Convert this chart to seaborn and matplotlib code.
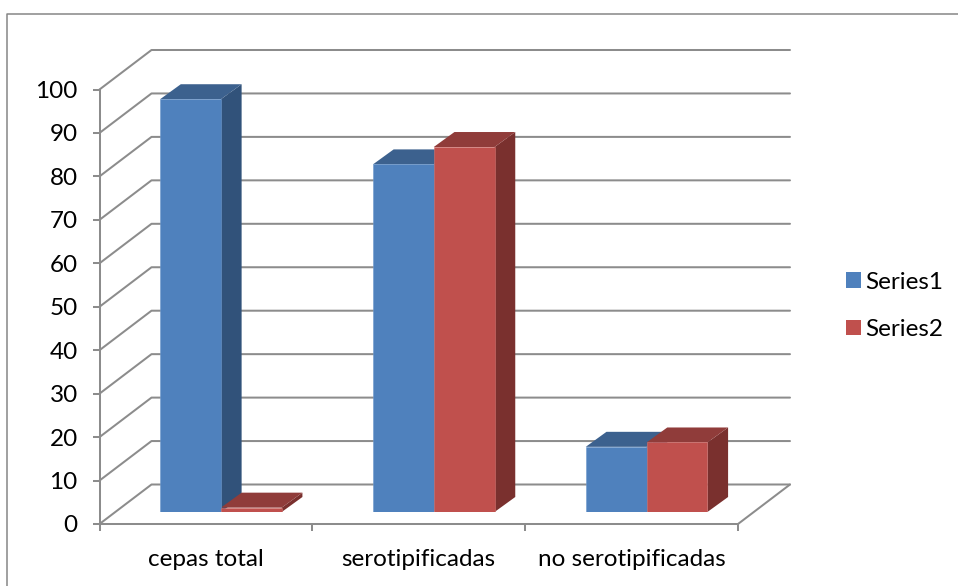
import matplotlib
matplotlib.use("Agg")
import matplotlib.pyplot as plt
import pandas as pd
import seaborn as sns
from matplotlib.lines import Line2D
from matplotlib.patches import Patch, Polygon

# Chart values
categories = ["cepas total", "serotipificadas", "no serotipificadas"]
series1 = [95, 80, 15]
series2 = [1, 84, 16]
series_names = ["Series1", "Series2"]
value_ticks = list(range(0, 101, 10))

# Office palette: front, top and side faces of each series
front_colors = ["#4F81BD", "#C0504D"]
top_colors = ["#3C618E", "#903C3A"]
side_colors = ["#31527A", "#7A302E"]
edge_colors = ["#6E99CC", "#D07370"]
grid_color = "#8C8C8C"
text_color = "#000000"
label_size = 17.5

W, H = 958, 586
sns.set_theme(style="white")
plt.rcParams["font.family"] = ["Lato", "DejaVu Sans"]

fig = plt.figure(figsize=(W / 100, H / 100), dpi=100, facecolor="white")


def axes_rect(left, right, bottom, top):
    return [left / W, 1 - bottom / H, (right - left) / W, (bottom - top) / H]


# Front plane of the box carries the axes; the bars stand slightly behind it
X0, X1, Y0, Y100 = 99.5, 738, 524, 89.5
ax_box = fig.add_axes(axes_rect(X0, X1, Y0, Y100))
ax_bars = fig.add_axes(axes_rect(X0 + 15.0, X1 + 15.0, Y0 - 12, Y100 - 12))

px_x = (X1 - X0) / len(categories)
px_y = (Y0 - Y100) / 100


def to_x(px):
    return px / px_x


def to_y(px):
    return px / px_y


# Box: walls, floor and gridlines
for ax in (ax_box, ax_bars):
    ax.set_xlim(-0.5, 2.5)
    ax.set_ylim(0, 100)

wall_dx, wall_dy = to_x(52), to_y(39.5)
line_width = 1.45
line_style = dict(color=grid_color, lw=line_width, clip_on=False, solid_capstyle="round", zorder=1)
for v in value_ticks:
    ax_box.plot([-0.5, -0.5 + wall_dx, 2.5 + wall_dx], [v, v + wall_dy, v + wall_dy], **line_style)
ax_box.plot([2.5, 2.5 + wall_dx], [0, wall_dy], **line_style)

ax_box.patch.set_visible(False)
for side in ("top", "right"):
    ax_box.spines[side].set_visible(False)
for side in ("left", "bottom"):
    ax_box.spines[side].set_color(grid_color)
    ax_box.spines[side].set_linewidth(line_width)
ax_box.set_yticks(value_ticks)
ax_box.set_yticklabels([str(v) for v in value_ticks])
ax_box.set_xticks([-0.5, 0.5, 1.5, 2.5])
ax_box.set_xticklabels([])
ax_box.set_xticks(range(len(categories)), labels=categories, minor=True)
ax_box.tick_params(axis="both", which="major", length=5, width=line_width, color=grid_color,
                   left=True, bottom=True)
ax_box.tick_params(axis="y", labelsize=label_size, labelcolor=text_color, pad=10.7)
ax_box.tick_params(axis="x", which="minor", length=0, labelsize=label_size,
                   labelcolor=text_color, pad=18)

# Front faces of the bars
table = pd.DataFrame({
    "category": categories * 2,
    "value": series1 + series2,
    "series": [series_names[0]] * 3 + [series_names[1]] * 3,
})
sns.barplot(data=table, x="category", y="value", hue="series", order=categories,
            hue_order=series_names, palette=front_colors, width=0.5714, saturation=1,
            dodge=True, legend=False, ax=ax_bars, zorder=5,
            edgecolor="none", linewidth=0)
ax_bars.set_xlim(-0.5, 2.5)
ax_bars.set_ylim(0, 100)
ax_bars.axis("off")

# Extruded top and side faces, derived from each drawn bar
bar_dx, bar_dy = to_x(20.7), to_y(15)
for idx, container in enumerate(ax_bars.containers):
    for bar in container:
        x, w, h = bar.get_x(), bar.get_width(), bar.get_height()
        bar.set_edgecolor(edge_colors[idx])
        bar.set_linewidth(0.4)
        top = Polygon([(x, h), (x + w, h), (x + w + bar_dx, h + bar_dy), (x + bar_dx, h + bar_dy)],
                      closed=True, facecolor=top_colors[idx], edgecolor="none",
                      clip_on=False, zorder=3 + idx)
        side = Polygon([(x + w, 0), (x + w + bar_dx, bar_dy), (x + w + bar_dx, h + bar_dy), (x + w, h)],
                       closed=True, facecolor=side_colors[idx], edgecolor="none",
                       clip_on=False, zorder=3 + idx)
        ax_bars.add_patch(side)
        ax_bars.add_patch(top)

# Legend
handles = [Patch(facecolor=c, edgecolor="none") for c in front_colors]
fig.legend(handles, series_names, loc="upper left", bbox_to_anchor=(836 / W, 1 - 262 / H),
           frameon=False, fontsize=label_size, labelcolor=text_color, handlelength=0.62,
           handleheight=0.62, handletextpad=0.2, labelspacing=1.08, borderpad=0.4,
           borderaxespad=0)

# Chart-area border, running off the top-right and bottom-left of the canvas
frame_xy = dict(color="#868686", lw=1.1, transform=fig.transFigure)
fig.add_artist(Line2D([6.5 / W, 6.5 / W, 1], [0, 1 - 13.5 / H, 1 - 13.5 / H], **frame_xy))

fig.savefig("out.png", dpi=100, facecolor="white")
